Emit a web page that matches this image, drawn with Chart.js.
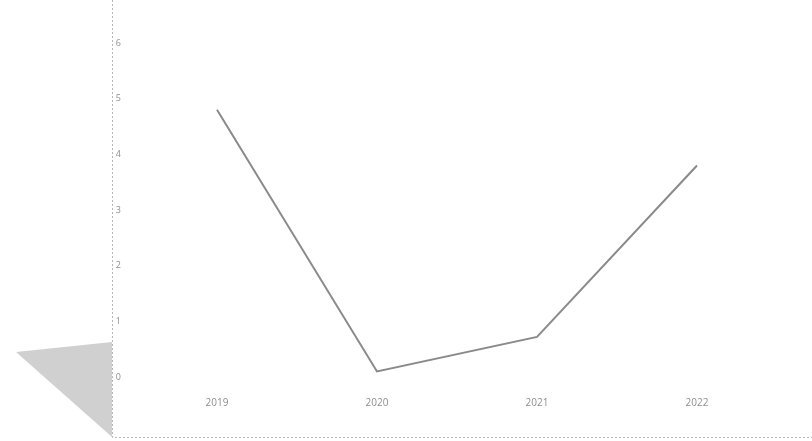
<!DOCTYPE html>
<html>
<head>
<meta charset="utf-8">
<script src="https://cdn.jsdelivr.net/npm/chart.js@4.4.1/dist/chart.umd.min.js"></script>
<style>
  html, body { margin: 0; padding: 0; background: #fff; }
  #wrap { width: 812px; height: 441px; position: relative; }
</style>
</head>
<body>
<div id="wrap"><canvas id="lineChart"></canvas></div>
<script>
// Chart data
const years = ['2019', '2020', '2021', '2022'];
const values = [4.8, 0.1, 0.72, 3.8];
const yTicks = [0, 1, 2, 3, 4, 5, 6];

// scan look: frame lines and the grey shadow at bottom left
const scanFrame = {
    id: 'scanFrame',
    beforeDraw(chart) {
        const c = chart.ctx;
        c.save();
        c.fillStyle = '#fff';
        c.fillRect(0, 0, chart.width, chart.height);
        // grey shadow
        c.fillStyle = '#d0d0d0';
        c.beginPath();
        c.moveTo(16, 352);
        c.lineTo(112, 342);
        c.lineTo(112, 437);
        c.closePath();
        c.fill();
        // frame
        c.strokeStyle = '#b5b5b5';
        c.lineWidth = 1;
        c.setLineDash([2, 2]);
        c.beginPath();
        c.moveTo(112.5, 0);
        c.lineTo(112.5, 437.5);
        c.lineTo(chart.width, 437.5);
        c.stroke();
        c.restore();
    }
};

new Chart(document.getElementById('lineChart'), {
    type: 'line',
    data: {
        labels: years,
        datasets: [{
            data: values,
            borderColor: '#8a8a8a',
            borderWidth: 2,
            pointRadius: 0,
            tension: 0,
            fill: false
        }]
    },
    options: {
        responsive: true,
        maintainAspectRatio: false,
        animation: false,
        layout: { padding: { left: 110, right: 35, top: 43, bottom: 24 } },
        plugins: {
            legend: { display: false },
            tooltip: { enabled: false }
        },
        scales: {
            x: {
                offset: true,
                grid: { display: false },
                border: { display: false },
                ticks: { color: '#8f8f8f', font: { family: 'Open Sans', size: 10 }, padding: 12 },
                afterFit: (s) => { s.height = 40; }
            },
            y: {
                min: 0,
                max: 6,
                afterBuildTicks: (s) => { s.ticks = yTicks.map(v => ({ value: v })); },
                grid: { display: false },
                border: { display: false },
                ticks: { color: '#8f8f8f', font: { family: 'Open Sans', size: 9 }, padding: 8 },
                afterFit: (s) => { s.width = 27; }
            }
        }
    },
    plugins: [scanFrame]
});
</script>
</body>
</html>
